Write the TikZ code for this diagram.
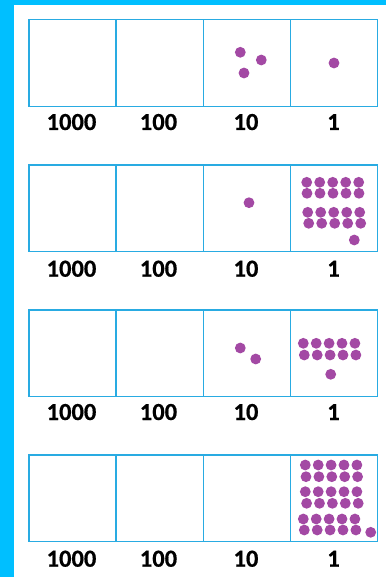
\documentclass[tikz,border=0pt]{standalone}
\usepackage{fontspec}
\setmainfont{Carlito}[BoldFeatures={FakeBold=0.6}]
\definecolor{frame}{RGB}{0,191,255}
\definecolor{boxline}{RGB}{41,171,226}
\definecolor{dotc}{RGB}{163,73,164}
\tikzset{
  cell/.style={draw=boxline, line width=1.3pt},
  lbl/.style={font=\fontsize{24.5}{28}\selectfont\bfseries, anchor=base, inner sep=0pt},
  dotm/.style={fill=dotc, draw=none}
}
\newcommand{\pdot}[2]{\fill[dotm] (#1,#2) circle (5.4);}
\begin{document}
\begin{tikzpicture}[x=1pt,y=-1pt]
\useasboundingbox (0,0) rectangle (386,577);
\fill[white] (0,0) rectangle (386,577);
\fill[frame] (0,0) rectangle (386,5);
\fill[frame] (0,0) rectangle (14,577);
% grids
\foreach \t/\b/\bl [count=\g] in {19.3/106.7/130, 165/251.7/276.7, 310/396.7/420, 455/541.7/566.7}{
  \draw[cell] (29,\t) rectangle (377.5,\b);
  \draw[cell] (116,\t) -- (116,\b);
  \draw[cell] (203.5,\t) -- (203.5,\b);
  \draw[cell] (290.5,\t) -- (290.5,\b);
  \node[lbl] (th\g) at (71.5,\bl) {1000};
  \node[lbl] (hu\g) at (158.5,\bl) {100};
  \node[lbl] (te\g) at (246,\bl) {10};
  \node[lbl] (on\g) at (333.5,\bl) {1};
}
% grid 1
\pdot{240.3}{52.3}\pdot{261.3}{60}\pdot{244}{73}
\pdot{334}{63}
% grid 2
\pdot{249}{202.7}
\foreach \y/\dx in {182.3/0, 193.3/0.3, 212.3/1, 223.3/2}{
  \foreach \i in {0,...,4}{ \pdot{306.7+\dx+13*\i}{\y} }
}
\pdot{354.3}{240}
% grid 3
\pdot{240.3}{348}\pdot{255.7}{359}
\foreach \y/\dx in {343.3/0, 355/1}{
  \foreach \i in {0,...,4}{ \pdot{303.3+\dx+12.9*\i}{\y} }
}
\pdot{330.7}{374.3}
% grid 4
\foreach \y/\dx in {465/0, 476.7/0.7, 491.7/0, 503.3/1.3, 519/-2, 530/-1}{
  \foreach \i in {0,...,4}{ \pdot{305.3+\dx+12.9*\i}{\y} }
}
\pdot{370.7}{532.3}
\end{tikzpicture}
\end{document}
